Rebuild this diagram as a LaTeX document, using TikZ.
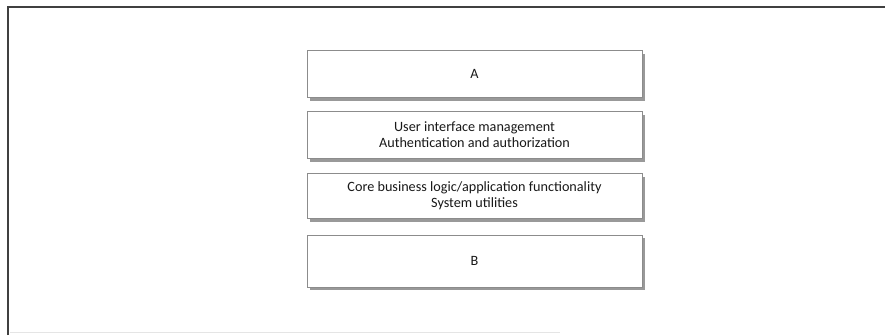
\documentclass[tikz,border=0pt]{standalone}
\usepackage{fontspec}
\setmainfont{Carlito}
\begin{document}
\begin{tikzpicture}[x=1pt,y=-1pt,
  layerbox/.style={draw=black!45, line width=0.8pt, fill=white, minimum width=335pt, align=center, text=black!90, font=\fontsize{14.2}{16}\selectfont, inner sep=0pt}]
\useasboundingbox (0,0) rectangle (885,335);
\fill[white] (0,0) rectangle (885,335);
% frame
\draw[black!75, line width=1.6pt] (8,335) -- (8,7) -- (885,7);
\draw[black!10, line width=1pt] (10,332) -- (560,332);
% shadows
\fill[black!40] (477.5,77) ++(-167.5,-23.5) rectangle ++(335,47);
\fill[black!40] (477.5,138) ++(-167.5,-23.5) rectangle ++(335,47);
\fill[black!40] (477.5,199) ++(-167.5,-22.5) rectangle ++(335,45);
\fill[black!40] (477.5,264) ++(-167.5,-26) rectangle ++(335,52);
% boxes
\node[layerbox, minimum height=47pt] (a) at (474.5,73.5) {A};
\node[layerbox, minimum height=47pt] (ui) at (474.5,134.5) {User interface management\\Authentication and authorization};
\node[layerbox, minimum height=45pt] (core) at (474.5,195.5) {Core business logic/application functionality\\System utilities};
\node[layerbox, minimum height=52pt] (b) at (474.5,261) {B};
\end{tikzpicture}
\end{document}
